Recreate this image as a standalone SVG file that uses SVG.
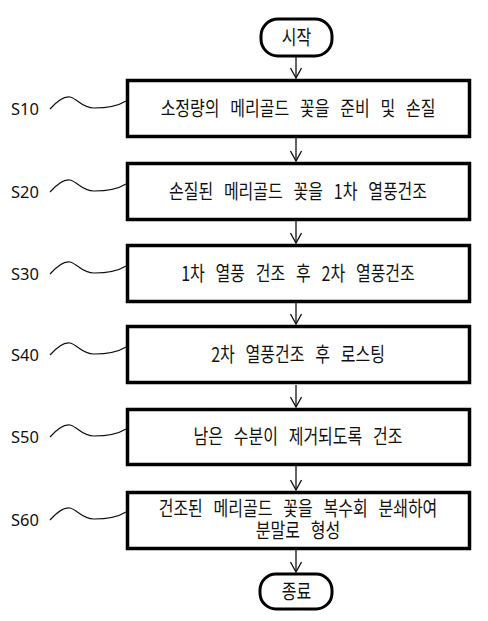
<svg xmlns="http://www.w3.org/2000/svg" width="488" height="621" viewBox="0 0 488 621">
<defs>
<style>
.box{fill:#fff;stroke:#000;stroke-width:3.5}
.term{fill:#fff;stroke:#000;stroke-width:3}
.t{font-family:"Noto Sans CJK KR","Noto Sans",sans-serif;font-size:20px;fill:#111;text-anchor:middle;word-spacing:9px}
.lab{font-family:"Noto Sans","Liberation Sans",sans-serif;font-size:16.5px;fill:#111}
.sq{fill:none;stroke:#111;stroke-width:1.2}
.ar{fill:none;stroke:#111;stroke-width:1.3}
</style>
<marker id="ah" viewBox="0 0 12 12" refX="11" refY="6" markerWidth="12" markerHeight="12" markerUnits="userSpaceOnUse" orient="auto">
<path d="M1,0.5 L11,6 L1,11.5" fill="none" stroke="#111" stroke-width="1.3"/>
</marker>
</defs>
<rect width="488" height="621" fill="#fff"/>
<g id="connectors">
<line class="ar" x1="296" y1="56" x2="296" y2="78" marker-end="url(#ah)"/>
<line class="ar" x1="296" y1="138" x2="296" y2="161" marker-end="url(#ah)"/>
<line class="ar" x1="296" y1="221" x2="296" y2="243" marker-end="url(#ah)"/>
<line class="ar" x1="296" y1="303" x2="296" y2="324" marker-end="url(#ah)"/>
<line class="ar" x1="296" y1="385" x2="296" y2="407" marker-end="url(#ah)"/>
<line class="ar" x1="296" y1="466" x2="296" y2="490" marker-end="url(#ah)"/>
<line class="ar" x1="296" y1="550" x2="296" y2="572" marker-end="url(#ah)"/>
</g>
<g id="start">
<rect class="term" x="261" y="19" width="71" height="37" rx="17"/>
<text class="t" transform="translate(296.5,45) scale(0.8,1)">시작</text>
</g>
<g id="s10">
<rect class="box" x="127.5" y="80.5" width="342" height="56"/>
<text class="t" transform="translate(298,116) scale(0.8,1)">소정량의 메리골드 꽃을 준비 및 손질</text>
<text class="lab" x="11" y="115">S10</text>
<path class="sq" d="M50,109 C58,100 64,96 70,97 C78,99 82,108 94,108 C108,108 118,106 126,101"/>
</g>
<g id="s20">
<rect class="box" x="127.5" y="163.5" width="342" height="56"/>
<text class="t" transform="translate(298,199) scale(0.8,1)">손질된 메리골드 꽃을 1차 열풍건조</text>
<text class="lab" x="11" y="198">S20</text>
<path class="sq" d="M50,192 C58,183 64,179 70,180 C78,182 82,191 94,191 C108,191 118,189 126,184"/>
</g>
<g id="s30">
<rect class="box" x="127.5" y="245.5" width="342" height="56"/>
<text class="t" transform="translate(298,281) scale(0.8,1)">1차 열풍 건조 후 2차 열풍건조</text>
<text class="lab" x="11" y="280">S30</text>
<path class="sq" d="M50,274 C58,265 64,261 70,262 C78,264 82,273 94,273 C108,273 118,271 126,266"/>
</g>
<g id="s40">
<rect class="box" x="127.5" y="326.5" width="342" height="56"/>
<text class="t" transform="translate(298,362) scale(0.8,1)">2차 열풍건조 후 로스팅</text>
<text class="lab" x="11" y="361">S40</text>
<path class="sq" d="M50,355 C58,346 64,342 70,343 C78,345 82,354 94,354 C108,354 118,352 126,347"/>
</g>
<g id="s50">
<rect class="box" x="127.5" y="409.5" width="342" height="55"/>
<text class="t" transform="translate(298,444) scale(0.8,1)">남은 수분이 제거되도록 건조</text>
<text class="lab" x="11" y="443">S50</text>
<path class="sq" d="M50,437 C58,428 64,424 70,425 C78,427 82,436 94,436 C108,436 118,434 126,429"/>
</g>
<g id="s60">
<rect class="box" x="127.5" y="492.5" width="342" height="56"/>
<text class="t" transform="translate(298,516) scale(0.8,1)"><tspan x="0" y="0">건조된 메리골드 꽃을 복수회 분쇄하여</tspan><tspan x="0" y="21.5">분말로 형성</tspan></text>
<text class="lab" x="11" y="526">S60</text>
<path class="sq" d="M50,520 C58,511 64,507 70,508 C78,510 82,519 94,519 C108,519 118,517 126,512"/>
</g>
<g id="end">
<rect class="term" x="260" y="574" width="72" height="35" rx="16"/>
<text class="t" transform="translate(296.5,599) scale(0.8,1)">종료</text>
</g>
</svg>
